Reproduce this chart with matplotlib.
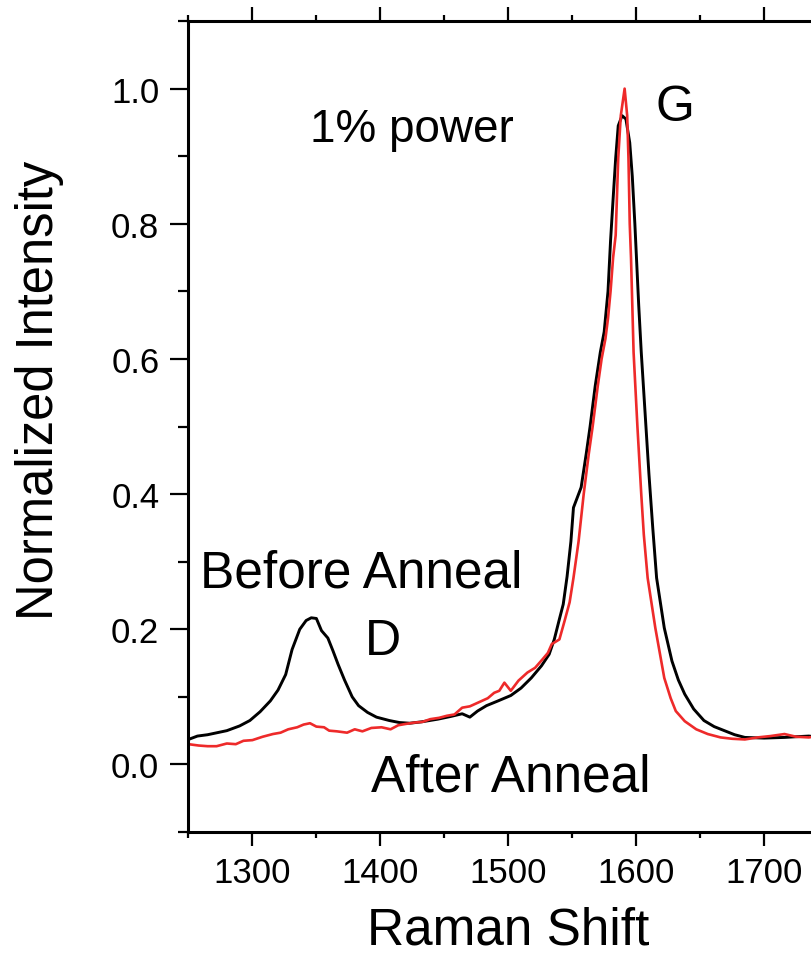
import matplotlib
matplotlib.use("Agg")
import matplotlib.pyplot as plt
from matplotlib.ticker import MultipleLocator

plt.rcParams['font.family'] = ['Liberation Sans', 'DejaVu Sans']

# Raman shift (cm^-1) and normalized intensity, before annealing
before_shift = [1250, 1257, 1265, 1280, 1290, 1298, 1306, 1314, 1320, 1326,
                1331, 1337, 1342, 1346, 1350, 1354, 1359, 1363, 1367, 1372,
                1378, 1383, 1390, 1397, 1407, 1415, 1423, 1432, 1445, 1455,
                1464, 1470, 1476, 1483, 1492, 1502, 1510, 1518, 1526, 1532,
                1536, 1540, 1543, 1546, 1549, 1551, 1554, 1557, 1561, 1564,
                1568, 1572, 1575, 1578, 1580, 1582, 1584, 1586, 1589, 1592,
                1595, 1597, 1599, 1601, 1602, 1604, 1607, 1610, 1613, 1616,
                1622, 1628, 1633, 1638, 1645, 1653, 1661, 1669, 1677, 1685,
                1700, 1716, 1725, 1735, 1745, 1750]
before_int = [0.037, 0.042, 0.044, 0.050, 0.057, 0.065, 0.078, 0.094, 0.110, 0.133,
              0.170, 0.200, 0.213, 0.217, 0.216, 0.198, 0.187, 0.168, 0.148, 0.125,
              0.100, 0.087, 0.077, 0.070, 0.065, 0.062, 0.061, 0.063, 0.067, 0.071,
              0.075, 0.070, 0.079, 0.087, 0.094, 0.102, 0.113, 0.128, 0.146, 0.163,
              0.185, 0.215, 0.237, 0.278, 0.330, 0.380, 0.395, 0.410, 0.460, 0.500,
              0.560, 0.610, 0.640, 0.700, 0.775, 0.837, 0.897, 0.945, 0.960, 0.955,
              0.920, 0.870, 0.800, 0.720, 0.680, 0.610, 0.520, 0.430, 0.350, 0.276,
              0.202, 0.153, 0.125, 0.104, 0.082, 0.065, 0.056, 0.050, 0.044, 0.040,
              0.039, 0.040, 0.041, 0.042, 0.040, 0.041]

# Raman shift (cm^-1) and normalized intensity, after annealing
after_shift = [1250, 1258, 1265, 1272, 1280, 1287, 1293, 1300, 1308, 1316,
               1322, 1328, 1335, 1340, 1345, 1350, 1356, 1360, 1366, 1374,
               1380, 1386, 1393, 1401, 1408, 1414, 1420, 1427, 1433, 1439,
               1446, 1452, 1458, 1464, 1470, 1477, 1484, 1489, 1493, 1497,
               1502, 1508, 1515, 1521, 1527, 1531, 1534, 1540, 1544, 1548,
               1551, 1555, 1559, 1563, 1566, 1570, 1573, 1576, 1578, 1580,
               1582, 1584, 1586, 1588, 1591, 1593, 1594, 1595, 1596, 1598,
               1601, 1604, 1606, 1609, 1615, 1622, 1627, 1631, 1638, 1647,
               1656, 1666, 1675, 1685, 1695, 1705, 1716, 1725, 1735, 1745, 1750]
after_int = [0.030, 0.028, 0.027, 0.027, 0.031, 0.030, 0.035, 0.036, 0.041, 0.045,
             0.047, 0.052, 0.055, 0.059, 0.061, 0.056, 0.055, 0.050, 0.049, 0.047,
             0.052, 0.049, 0.054, 0.055, 0.052, 0.058, 0.060, 0.062, 0.063, 0.067,
             0.069, 0.072, 0.074, 0.084, 0.086, 0.092, 0.098, 0.106, 0.109, 0.121,
             0.109, 0.124, 0.136, 0.143, 0.156, 0.165, 0.178, 0.185, 0.212, 0.240,
             0.276, 0.330, 0.400, 0.460, 0.500, 0.560, 0.600, 0.630, 0.660, 0.700,
             0.750, 0.783, 0.897, 0.960, 1.000, 0.960, 0.897, 0.800, 0.749, 0.610,
             0.500, 0.400, 0.340, 0.276, 0.202, 0.128, 0.098, 0.079, 0.064, 0.052,
             0.045, 0.040, 0.038, 0.037, 0.040, 0.042, 0.045, 0.041, 0.040, 0.043, 0.041]

x_ticks = [1300, 1400, 1500, 1600, 1700]
y_ticks = [0.0, 0.2, 0.4, 0.6, 0.8, 1.0]

fig = plt.figure(figsize=(8.12, 9.54), dpi=100)
ax = fig.add_axes([0.2321, 0.1268, 0.7876, 0.8501])

ax.plot(before_shift, before_int, color='black', lw=2.1)
ax.plot(after_shift, after_int, color='#ee2a2a', lw=1.9)

ax.set_xlim(1250, 1750)
ax.set_ylim(-0.1, 1.1)
ax.set_xticks(x_ticks)
ax.set_yticks(y_ticks)
ax.set_xticklabels([str(t) for t in x_ticks])
ax.set_yticklabels([f"{t:.1f}" for t in y_ticks])
ax.xaxis.set_minor_locator(MultipleLocator(50))
ax.yaxis.set_minor_locator(MultipleLocator(0.1))

for s in ax.spines.values():
    s.set_linewidth(2.2)
ax.spines['right'].set_visible(False)

ax.tick_params(axis='x', which='major', direction='out', length=10, width=1.6,
               top=True, labelsize=25, pad=7)
ax.tick_params(axis='x', which='minor', direction='out', length=4.5, width=1.6, top=True)
ax.tick_params(axis='y', which='major', direction='out', length=13, width=1.6,
               right=False, labelsize=25, pad=8)
ax.tick_params(axis='y', which='minor', direction='out', length=7, width=1.6, right=False)

ax.set_xlabel('Raman Shift', fontsize=37, va='baseline')
ax.xaxis.set_label_coords(0.5, -0.1369)
ax.set_ylabel('Normalized Intensity', fontsize=36.5, va='baseline')
ax.yaxis.set_label_coords(-0.2119, 0.546)

ax.text(1345, 0.923, '1% power', fontsize=33, ha='left', va='baseline')
ax.text(1615, 0.953, 'G', fontsize=36, ha='left', va='baseline')
ax.text(1259, 0.263, 'Before Anneal', fontsize=37, ha='left', va='baseline')
ax.text(1388, 0.164, 'D', fontsize=36, ha='left', va='baseline')
ax.text(1393, -0.038, 'After Anneal', fontsize=37, ha='left', va='baseline')

fig.savefig('out.png', dpi=100)
